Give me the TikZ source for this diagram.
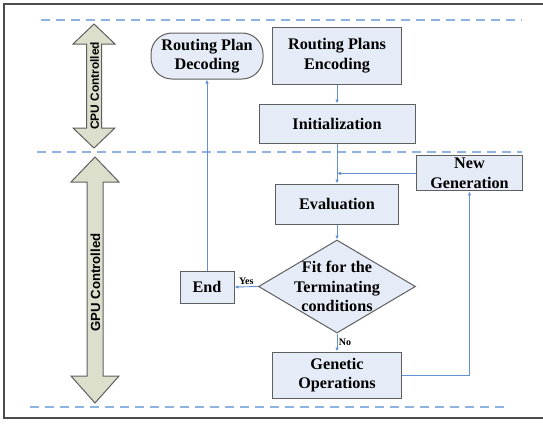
\documentclass[tikz,border=0pt]{standalone}
\usepackage{fontspec}
\setmainfont{Liberation Serif}
\newfontfamily\sidefont{Liberation Sans}
\usetikzlibrary{
    arrows.meta,
    shapes.geometric
}
\definecolor{BoxFill}{RGB}{230,236,247}
\definecolor{BoxLine}{RGB}{95,95,95}
\definecolor{FlowBlue}{RGB}{98,146,212}
\definecolor{LaneBlue}{RGB}{142,178,226}
\definecolor{SideSage}{RGB}{220,223,204}
\newcommand{\boxfont}{\fontsize{16.2}{19.5}\selectfont\bfseries}

\begin{document}
\begin{tikzpicture}[
    x=1pt, y=-1pt,
    box/.style={draw=BoxLine, fill=BoxFill, line width=1pt,
        align=center, inner sep=0pt, font=\boxfont},
    decision/.style={diamond, draw=BoxLine, fill=BoxFill, line width=1pt,
        aspect=1.69, inner sep=0pt, minimum width=157pt, minimum height=93pt},
    flow/.style={-{Latex[length=4pt,width=3.5pt]}, draw=FlowBlue, line width=0.9pt},
    lane/.style={draw=LaneBlue, line width=1.8pt, dash pattern=on 9pt off 6pt},
    sidearrow/.style={draw=BoxLine, fill=SideSage, line width=1pt},
    yesno/.style={font=\fontsize{10}{12}\selectfont\bfseries, inner sep=1.5pt}
]

\useasboundingbox (0,0) rectangle (543,423);

% frame and lanes
\draw[line width=1.8pt, draw=black!70] (543,4) -- (4,4) -- (4,418) -- (543,418);

\draw[lane] (41,20) -- (522,20);
\draw[lane] (37,152) -- (522,152);
\draw[lane] (30,407) -- (508,407);

% CPU / GPU arrows
\draw[sidearrow]
    (94,24) -- (115,44) -- (101.5,44) -- (101.5,128) -- (115,128)
    -- (94,148) -- (73,128) -- (86.5,128) -- (86.5,44) -- (73,44) -- cycle;
\node[rotate=90, font=\sidefont\fontsize{11.9}{14}\selectfont\bfseries]
    (cpu) at (94.5,86) {CPU Controlled};

\draw[sidearrow]
    (95,157) -- (119,182) -- (103,182) -- (103,376) -- (119,376)
    -- (95,403) -- (71,376) -- (87,376) -- (87,182) -- (71,182) -- cycle;
\node[rotate=90, font=\sidefont\fontsize{13.2}{15}\selectfont\bfseries]
    (gpu) at (95.5,282.5) {GPU Controlled};

% steps
\node[box, rounded corners=21pt, minimum width=112pt, minimum height=46pt]
    (decode) at (207,56) {Routing Plan\\Decoding};
\node[box, minimum width=129pt, minimum height=57pt]
    (encode) at (337,55.5) {Routing Plans\\Encoding};
\node[box, minimum width=156pt, minimum height=39pt]
    (init) at (337,123.5) {Initialization};
\node[box, minimum width=106pt, minimum height=35pt]
    (newgen) at (469.5,173.4) {New\\Generation};
\node[box, minimum width=123pt, minimum height=40pt]
    (eval) at (337,204) {Evaluation};
\node[decision] (fit) at (337,286.5) {};
\node[align=center, inner sep=0pt, font=\boxfont]
    (fittext) at (fit) {Fit for the\\Terminating\\conditions};
\node[box, minimum width=54pt, minimum height=32pt]
    (end) at (207,287) {End};
\node[box, minimum width=129pt, minimum height=46pt]
    (genetic) at (337,375) {Genetic\\Operations};

% connectors
\draw[flow] (encode.south) -- (init.north);
\draw[flow] (init.south) -- (eval.north);
\draw[flow] (newgen.west) -- (init.south |- newgen.west);
\draw[flow] (eval.south) -- (fit.north);
\draw[flow]
    (fit.west) -- (end.east)
    node[midway, above, yesno] {Yes};
\draw[flow]
    (fit.south) -- (genetic.north)
    node[midway, right, yesno] {No};
\draw[flow] (genetic.east) -| (newgen.south);
\draw[flow] (end.north) -- (decode.south);

\end{tikzpicture}
\end{document}
